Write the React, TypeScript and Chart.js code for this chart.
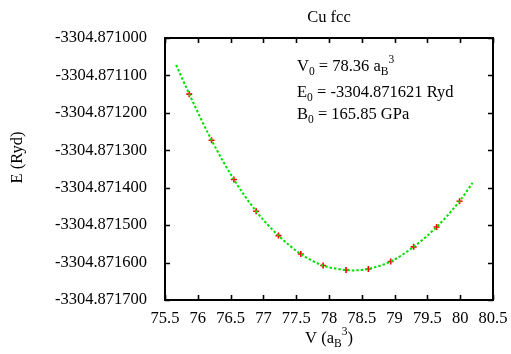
import React, { useEffect, useRef } from 'react';
import { Chart, registerables } from 'chart.js';

Chart.register(...registerables);

const TITLE = 'Cu fcc';
const Y_TITLE = 'E (Ryd)';

// Computed data points (red crosses)
const V_DATA = [75.87, 76.21, 76.55, 76.89, 77.23, 77.57, 77.91, 78.26, 78.6, 78.94, 79.29, 79.64, 79.99];
const E_DATA = [
  -3304.87115, -3304.871273, -3304.871378, -3304.871463, -3304.871528, -3304.871577,
  -3304.871608, -3304.87162, -3304.871617, -3304.871597, -3304.871558, -3304.871505, -3304.871436,
];

// Fitted equation-of-state curve (green dashed)
const FIT_V = [75.67, 75.87, 76.21, 76.55, 76.89, 77.23, 77.57, 77.91, 78.26, 78.36, 78.6, 78.94, 79.29, 79.64, 79.99, 80.19];
const FIT_E = [
  -3304.871072, -3304.87115, -3304.871273, -3304.871378, -3304.871463, -3304.871528, -3304.871577,
  -3304.871608, -3304.87162, -3304.871621, -3304.871617, -3304.871597, -3304.871558, -3304.871505,
  -3304.871436, -3304.871387,
];

const X_TICKS = [75.5, 76, 76.5, 77, 77.5, 78, 78.5, 79, 79.5, 80, 80.5];
const Y_TICKS = [
  -3304.8717, -3304.8716, -3304.8715, -3304.8714, -3304.8713, -3304.8712, -3304.8711, -3304.871,
];

const V0_TEXT = '78.36';
const E0_TEXT = '-3304.871621';
const B0_TEXT = '165.85';

const FONT = 'Liberation Serif, Times New Roman, serif';
const FS = 16.5;
const FS_SMALL = 11.5;

type Seg = { t: string; sub?: boolean; sup?: boolean };

function segFont(s: Seg) {
  return `${s.sub || s.sup ? FS_SMALL : FS}px ${FONT}`;
}

function richWidth(ctx: CanvasRenderingContext2D, segs: Seg[]) {
  let w = 0;
  for (const s of segs) {
    ctx.font = segFont(s);
    w += ctx.measureText(s.t).width;
  }
  return w;
}

function drawRich(ctx: CanvasRenderingContext2D, segs: Seg[], x: number, y: number) {
  let cx = x;
  ctx.textAlign = 'left';
  ctx.textBaseline = 'alphabetic';
  for (const s of segs) {
    ctx.font = segFont(s);
    const dy = s.sub ? 4 : s.sup ? -8 : 0;
    ctx.fillText(s.t, cx, y + dy);
    cx += ctx.measureText(s.t).width;
  }
}

const framePlugin = {
  id: 'frame',
  afterDatasetsDraw(chart: any) {
    const ctx: CanvasRenderingContext2D = chart.ctx;
    const { left, right, top, bottom } = chart.chartArea;
    const xs = chart.scales.x;
    const ys = chart.scales.y;
    ctx.save();
    ctx.strokeStyle = '#000';
    ctx.lineWidth = 1.6;
    const tl = 5;
    ctx.beginPath();
    for (const v of X_TICKS) {
      const px = Math.round(xs.getPixelForValue(v)) + 0.5;
      ctx.moveTo(px, bottom);
      ctx.lineTo(px, bottom - tl);
      ctx.moveTo(px, top);
      ctx.lineTo(px, top + tl);
    }
    for (const v of Y_TICKS) {
      const py = Math.round(ys.getPixelForValue(v)) + 0.5;
      ctx.moveTo(left, py);
      ctx.lineTo(left + tl, py);
      ctx.moveTo(right, py);
      ctx.lineTo(right - tl, py);
    }
    ctx.stroke();
    ctx.lineWidth = 2;
    ctx.strokeRect(left, top, right - left, bottom - top);

    ctx.fillStyle = '#000';
    // title
    ctx.font = `${FS}px ${FONT}`;
    ctx.textAlign = 'center';
    ctx.textBaseline = 'alphabetic';
    ctx.fillText(TITLE, (left + right) / 2, 21.5);

    // y title
    ctx.save();
    ctx.translate(21.5, 157.5);
    ctx.rotate(-Math.PI / 2);
    ctx.textAlign = 'center';
    ctx.textBaseline = 'alphabetic';
    ctx.fillText(Y_TITLE, 0, 0);
    ctx.restore();

    // x title
    const xt: Seg[] = [{ t: 'V (a' }, { t: 'B', sub: true }, { t: '3', sup: true }, { t: ')' }];
    const w = richWidth(ctx, xt);
    drawRich(ctx, xt, (left + right) / 2 - w / 2, 343);

    // annotation
    const ax = 297;
    drawRich(ctx, [{ t: 'V' }, { t: '0', sub: true }, { t: ` = ${V0_TEXT} a` }, { t: 'B', sub: true }, { t: '3', sup: true }], ax, 71);
    drawRich(ctx, [{ t: 'E' }, { t: '0', sub: true }, { t: ` = ${E0_TEXT} Ryd` }], ax, 96.5);
    drawRich(ctx, [{ t: 'B' }, { t: '0', sub: true }, { t: ` = ${B0_TEXT} GPa` }], ax, 119);
    ctx.restore();
  },
};

export default function App() {
  const ref = useRef<HTMLCanvasElement | null>(null);

  useEffect(() => {
    if (!ref.current) return;
    const chart = new Chart(ref.current, {
      type: 'scatter',
      data: {
        datasets: [
          {
            label: 'fit',
            data: FIT_V.map((v, i) => ({ x: v, y: FIT_E[i] })),
            showLine: true,
            borderColor: '#00e000',
            backgroundColor: '#00e000',
            borderWidth: 2,
            borderDash: [2.5, 2],
            pointRadius: 0,
            cubicInterpolationMode: 'monotone',
            fill: false,
            order: 0,
          } as any,
          {
            label: 'data',
            data: V_DATA.map((v, i) => ({ x: v, y: E_DATA[i] })),
            showLine: false,
            pointStyle: 'cross',
            pointRadius: 3,
            borderColor: '#ff0000',
            backgroundColor: '#ff0000',
            borderWidth: 1.6,
            order: 1,
          } as any,
        ],
      },
      options: {
        animation: false,
        responsive: false,
        events: [],
        layout: { padding: { left: 0, top: 38, right: 18, bottom: 0 } },
        plugins: {
          legend: { display: false },
          tooltip: { enabled: false },
          title: { display: false },
        },
        scales: {
          x: {
            type: 'linear',
            min: 75.5,
            max: 80.5,
            grid: { display: false },
            border: { display: false },
            afterBuildTicks: (s: any) => {
              s.ticks = X_TICKS.map((v) => ({ value: v }));
            },
            afterFit: (s: any) => {
              s.height = 54;
              s.paddingLeft = 0;
              s.paddingRight = 0;
            },
            ticks: {
              color: '#000',
              font: { family: FONT, size: FS },
              padding: 1,
              maxRotation: 0,
              autoSkip: false,
              callback: (v: any) => String(v),
            },
          },
          y: {
            type: 'linear',
            min: -3304.8717,
            max: -3304.871,
            grid: { display: false },
            border: { display: false },
            afterBuildTicks: (s: any) => {
              s.ticks = Y_TICKS.map((v) => ({ value: v }));
            },
            afterFit: (s: any) => {
              s.width = 165;
              s.paddingTop = 0;
              s.paddingBottom = 0;
            },
            ticks: {
              color: '#000',
              font: { family: FONT, size: FS },
              padding: 10,
              autoSkip: false,
              callback: (v: any) => Number(v).toFixed(6),
            },
          },
        },
      } as any,
      plugins: [framePlugin],
    });
    return () => chart.destroy();
  }, []);

  return (
    <div style={{ position: 'fixed', left: 0, top: 0, width: 511, height: 354, background: '#fff' }}>
      <canvas ref={ref} width={511} height={354} style={{ display: 'block' }} />
    </div>
  );
}
